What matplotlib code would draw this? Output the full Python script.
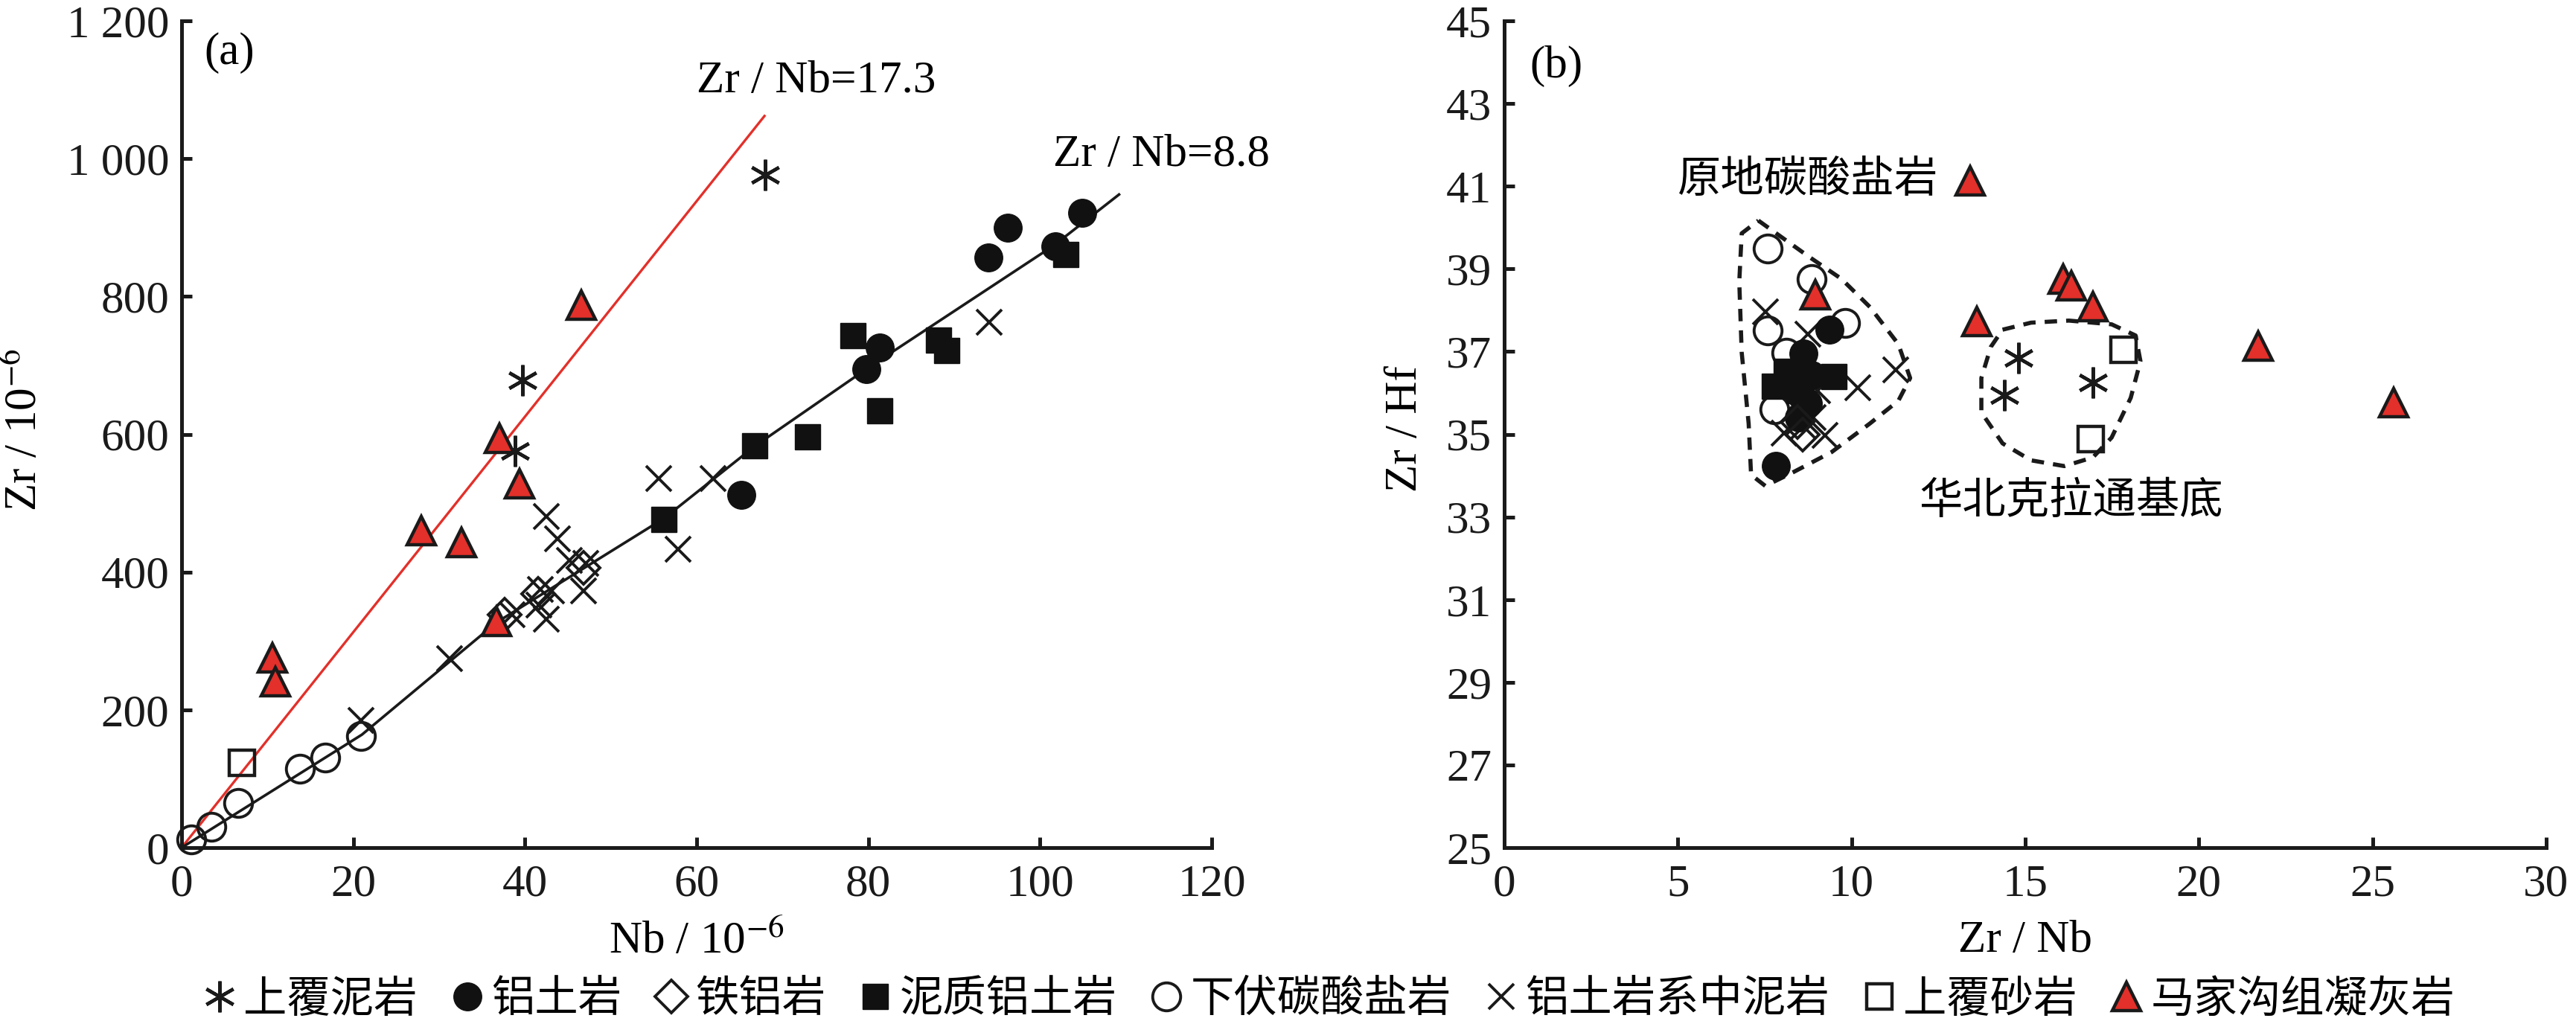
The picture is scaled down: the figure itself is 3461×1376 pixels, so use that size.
import matplotlib
matplotlib.use("Agg")
import matplotlib.pyplot as plt
from matplotlib.lines import Line2D

plt.rcParams['font.family'] = ['Liberation Serif', 'Noto Sans CJK SC', 'DejaVu Sans']
plt.rcParams['mathtext.fontset'] = 'stix'

RED = '#e3302a'

# ---- panel (a): Nb vs Zr (10^-6) ----
a_asterisk_nb = [38.8, 39.7, 68.0]
a_asterisk_zr = [576, 678, 976]
a_bauxite_nb = [65.2, 79.8, 81.3, 94.0, 96.2, 101.8, 104.9]
a_bauxite_zr = [512, 695, 726, 857, 900, 873, 921]
a_ferro_nb = [37.6, 41.5, 46.8]
a_ferro_zr = [338, 368, 406]
a_clayey_nb = [56.2, 66.8, 72.9, 78.2, 81.3, 88.2, 89.1, 103.0]
a_clayey_zr = [476, 583, 596, 743, 634, 737, 722, 861]
a_carb_nb = [1.15, 3.47, 6.56, 13.76, 16.76, 20.9]
a_carb_zr = [12, 30, 65, 115, 131, 162]
a_mud_nb = [20.9, 31.2, 38.5, 41.6, 41.8, 42.5, 42.5, 43.1, 43.8, 45.2, 46.8, 47.1, 55.6, 57.8, 61.9, 94.1]
a_mud_zr = [185, 274, 338, 352, 375, 332, 481, 373, 448, 417, 373, 413, 536, 433, 536, 763]
a_sand_nb = [7.0]
a_sand_zr = [123]
a_tuff_nb = [10.6, 10.9, 27.9, 32.6, 36.7, 37.0, 39.4, 46.6]
a_tuff_zr = [276, 241, 460, 443, 328, 594, 528, 787]

line_red_nb = [0, 67.9]
line_red_zr = [0, 1062]
line_fit_nb = [0, 21.0, 36.7, 56.2, 66.8, 79.8, 101.6, 109.2]
line_fit_zr = [0, 164, 327, 478, 583, 695, 874, 948]

a_xticks = [0, 20, 40, 60, 80, 100, 120]
a_yticks = [0, 200, 400, 600, 800, 1000, 1200]
a_yticklabels = ['0', '200', '400', '600', '800', '1 000', '1 200']

# ---- panel (b): Zr/Nb vs Zr/Hf ----
b_asterisk_x = [14.4, 14.8, 16.95]
b_asterisk_y = [35.95, 36.84, 36.26]
b_bauxite_x = [7.83, 8.48, 8.55, 8.61, 8.75, 8.86, 9.36]
b_bauxite_y = [34.23, 35.40, 35.95, 36.95, 35.74, 36.43, 37.53]
b_ferro_x = [8.6, 8.45]
b_ferro_y = [35.0, 35.3]
b_clayey_x = [7.79, 8.13, 8.48, 9.50]
b_clayey_y = [36.17, 36.53, 36.05, 36.39]
b_carb_x = [7.59, 7.59, 7.79, 8.13, 8.86, 9.81]
b_carb_y = [39.5, 37.52, 35.60, 36.98, 38.75, 37.70]
b_mud_x = [7.52, 8.07, 8.61, 8.75, 8.89, 9.02, 9.23, 10.18, 11.28]
b_mud_y = [37.97, 35.02, 35.19, 37.42, 35.40, 36.05, 34.98, 36.12, 36.56]
b_sand_x = [16.88, 17.84]
b_sand_y = [34.88, 37.04]
b_tuff_x = [8.95, 13.42, 13.6, 16.1, 16.33, 16.95, 21.7, 25.6]
b_tuff_y = [38.38, 41.13, 37.73, 38.76, 38.59, 38.08, 37.13, 35.77]

# dashed fields
field_carb_x = [7.32, 8.75, 9.71, 10.53, 11.35, 11.69, 11.35, 10.53, 9.43, 8.34, 7.52, 7.11, 7.04, 6.84, 6.77, 6.84, 7.32]
field_carb_y = [40.17, 39.31, 38.76, 38.08, 37.18, 36.36, 35.81, 35.26, 34.57, 34.09, 33.75, 34.02, 35.26, 36.98, 38.69, 39.86, 40.17]
field_base_x = [14.35, 15.17, 16.26, 17.49, 18.18, 18.32, 18.04, 17.49, 16.95, 16.13, 15.17, 14.35, 13.74, 13.74, 14.01, 14.35]
field_base_y = [37.53, 37.70, 37.75, 37.66, 37.39, 36.77, 35.88, 34.92, 34.44, 34.23, 34.37, 34.78, 35.53, 36.36, 37.11, 37.53]

b_xticks = [0, 5, 10, 15, 20, 25, 30]
b_yticks = [25, 27, 29, 31, 33, 35, 37, 39, 41, 43, 45]

groups = ['上覆泥岩', '铝土岩', '铁铝岩', '泥质铝土岩', '下伏碳酸盐岩', '铝土岩系中泥岩', '上覆砂岩', '马家沟组凝灰岩']

STYLES = {
    '上覆泥岩': dict(marker=(6, 2, 0), ms=15, mfc='none', mec='#1a1a1a', mew=1.6),
    '铝土岩': dict(marker='o', ms=13.5, mfc='#111111', mec='#111111', mew=0.5),
    '铁铝岩': dict(marker='D', ms=11, mfc='none', mec='#1a1a1a', mew=1.4),
    '泥质铝土岩': dict(marker='s', ms=12.5, mfc='#111111', mec='#111111', mew=0.5),
    '下伏碳酸盐岩': dict(marker='o', ms=13.5, mfc='none', mec='#1a1a1a', mew=1.4),
    '铝土岩系中泥岩': dict(marker='x', ms=12, mfc='none', mec='#1a1a1a', mew=1.4),
    '上覆砂岩': dict(marker='s', ms=12.5, mfc='none', mec='#1a1a1a', mew=1.6),
    '马家沟组凝灰岩': dict(marker='^', ms=13.5, mfc=RED, mec='#1a1a1a', mew=1.6),
}


def style_axes(ax):
    for s in ['top', 'right']:
        ax.spines[s].set_visible(False)
    for s in ['left', 'bottom']:
        ax.spines[s].set_linewidth(1.8)
        ax.spines[s].set_color('#1a1a1a')
    ax.tick_params(direction='in', length=5, width=1.8, labelsize=22, colors='#1a1a1a')
    ax.tick_params(axis='x', pad=8)
    ax.tick_params(axis='y', pad=6)


def draw(ax, data):
    order = ['下伏碳酸盐岩', '铝土岩系中泥岩', '泥质铝土岩', '铝土岩', '铁铝岩', '上覆泥岩', '上覆砂岩', '马家沟组凝灰岩']
    for g in order:
        xs, ys = data[g]
        ax.plot(xs, ys, ls='none', clip_on=False, zorder=3, **STYLES[g])


fig = plt.figure(figsize=(17.305, 6.88), dpi=200)
ax1 = fig.add_axes([0.0705, 0.1722, 0.3999, 0.8074])
ax2 = fig.add_axes([0.5839, 0.1722, 0.4045, 0.8074])

# panel (a)
ax1.plot(line_red_nb, line_red_zr, color=RED, lw=1.2, zorder=2)
ax1.plot(line_fit_nb, line_fit_zr, color='#1a1a1a', lw=1.3, zorder=2)
draw(ax1, {
    '上覆泥岩': (a_asterisk_nb, a_asterisk_zr),
    '铝土岩': (a_bauxite_nb, a_bauxite_zr),
    '铁铝岩': (a_ferro_nb, a_ferro_zr),
    '泥质铝土岩': (a_clayey_nb, a_clayey_zr),
    '下伏碳酸盐岩': (a_carb_nb, a_carb_zr),
    '铝土岩系中泥岩': (a_mud_nb, a_mud_zr),
    '上覆砂岩': (a_sand_nb, a_sand_zr),
    '马家沟组凝灰岩': (a_tuff_nb, a_tuff_zr),
})
ax1.set_xlim(0, 120)
ax1.set_ylim(0, 1200)
ax1.set_xticks(a_xticks)
ax1.set_yticks(a_yticks)
ax1.set_yticklabels(a_yticklabels)
style_axes(ax1)
ax1.set_xlabel('Nb / 10$^{-6}$', fontsize=22)
ax1.set_ylabel('Zr / 10$^{-6}$', fontsize=22)
ax1.xaxis.set_label_coords(0.5, -0.088)
ax1.yaxis.set_label_coords(-0.131, 0.505)
ax1.text(5.6, 1153, '(a)', fontsize=22, ha='center', va='center')
ax1.text(60.0, 1112, 'Zr / Nb=17.3', fontsize=22, ha='left', va='center')
ax1.text(101.5, 1005, 'Zr / Nb=8.8', fontsize=22, ha='left', va='center', clip_on=False)

# panel (b)
ax2.plot(field_carb_x, field_carb_y, color='#1a1a1a', lw=2.0, ls=(0, (3, 2.2)), zorder=2)
ax2.plot(field_base_x, field_base_y, color='#1a1a1a', lw=2.0, ls=(0, (3, 2.2)), zorder=2)
draw(ax2, {
    '上覆泥岩': (b_asterisk_x, b_asterisk_y),
    '铝土岩': (b_bauxite_x, b_bauxite_y),
    '铁铝岩': (b_ferro_x, b_ferro_y),
    '泥质铝土岩': (b_clayey_x, b_clayey_y),
    '下伏碳酸盐岩': (b_carb_x, b_carb_y),
    '铝土岩系中泥岩': (b_mud_x, b_mud_y),
    '上覆砂岩': (b_sand_x, b_sand_y),
    '马家沟组凝灰岩': (b_tuff_x, b_tuff_y),
})
ax2.set_xlim(0, 30)
ax2.set_ylim(25, 45)
ax2.set_xticks(b_xticks)
ax2.set_yticks(b_yticks)
style_axes(ax2)
ax2.set_xlabel('Zr / Nb', fontsize=22)
ax2.set_ylabel('Zr / Hf', fontsize=22)
ax2.xaxis.set_label_coords(0.5, -0.088)
ax2.yaxis.set_label_coords(-0.075, 0.507)
ax2.text(1.5, 43.9, '(b)', fontsize=22, ha='center', va='center')
ax2.text(12.5, 41.16, '原地碳酸盐岩', fontsize=21, ha='right', va='center',
         family=['Noto Sans CJK SC', 'DejaVu Sans'])
ax2.text(16.33, 33.39, '华北克拉通基底', fontsize=21, ha='center', va='center',
         family=['Noto Sans CJK SC', 'DejaVu Sans'])

# legend
handles = [Line2D([], [], ls='none', **STYLES[g]) for g in groups]
fig.legend(handles, groups, loc='center', bbox_to_anchor=(0.5157, 0.024), ncol=8,
           frameon=False, handlelength=0.8, handletextpad=0.15, columnspacing=0.75,
           borderaxespad=0, prop={'family': ['Noto Sans CJK SC', 'DejaVu Sans'], 'size': 21})

fig.savefig('out.png', dpi=200)
